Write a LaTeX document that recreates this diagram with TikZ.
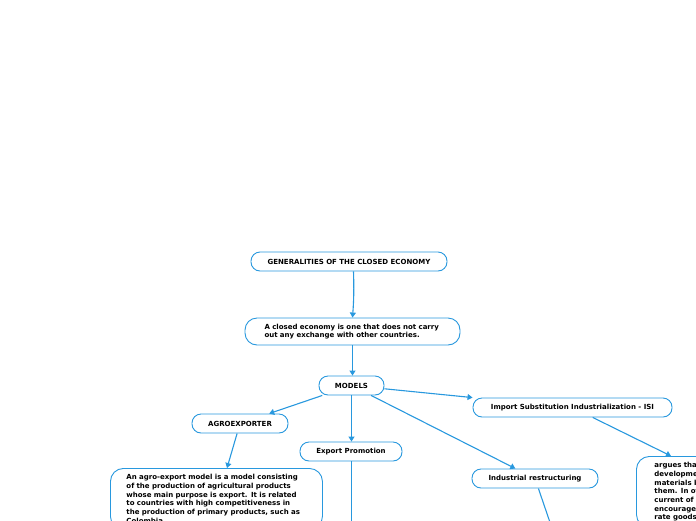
\documentclass[tikz,border=0pt]{standalone}
\usepackage{fontspec}
\setmainfont{DejaVu Sans}
\usepackage{tikz}
\usetikzlibrary{arrows.meta,positioning}

\definecolor{mapblue}{RGB}{40,152,222}

\begin{document}
\begin{tikzpicture}[
  x=1pt, y=-1pt,
  topic/.style={draw=mapblue, fill=white, rounded corners=9pt, line width=0.9pt, align=center, minimum height=19pt, inner sep=0pt, font=\fontsize{7}{8.7}\selectfont\bfseries},
  note/.style={draw=mapblue, fill=white, rounded corners=13pt, line width=0.9pt, align=left, text width=180pt, inner xsep=16pt, inner ysep=6pt, font=\fontsize{7}{8.7}\selectfont\bfseries, anchor=north west},
  arr/.style={-{Triangle[length=5pt,width=6pt]}, draw=mapblue, line width=1.1pt}
]
\useasboundingbox (0,0) rectangle (696,520);
\clip (0,0) rectangle (696,520);

\node[topic, minimum width=196pt] (gen) at (349,261.5) {GENERALITIES OF THE CLOSED ECONOMY};
\node[topic, minimum width=215pt, minimum height=27pt, rounded corners=12pt, align=left, text width=176pt] (closed) at (352.5,331.5)
  {A closed economy is one that does not carry\\out any exchange with other countries.};
\node[topic, minimum width=65pt] (models) at (351.5,385.5) {MODELS};
\node[topic, minimum width=96pt] (agro) at (240,423.5) {AGROEXPORTER};
\node[topic, minimum width=102pt] (expo) at (351,451.5) {Export Promotion};
\node[topic, minimum width=199pt] (isi) at (572.5,407.5) {Import Substitution Industrialization - ISI};
\node[topic, minimum width=126pt] (indus) at (535,478.5) {Industrial restructuring};

\node[note] (agrotxt) at (110,468) {An agro-export model is a model consisting\\of the production of agricultural products\\whose main purpose is export. It is related\\to countries with high competitiveness in\\the production of primary products, such as\\Colombia.};
\node[note, text width=150pt, inner xsep=18pt] (isitxt) at (636,456) {argues that the\\development of\\materials by\\them. In other\\current of thought\\encourages\\rate goods};

% children below the frame
\coordinate (expokid) at (351.5,540);
\coordinate (induskid) at (556,540);

\draw[arr] (gen.south -| 353.5,0) to[bend left=3] (closed.north -| 352.5,0);
\draw[arr] (closed.south -| 352.5,0) -- (models.north -| 352.5,0);
\draw[arr] (models) -- (agro);
\draw[arr] (models.south -| 351.5,0) -- (expo.north -| 351.5,0);
\draw[arr] (models) -- (isi);
\draw[arr] (models) -- (indus);
\draw[arr] (agro) -- (agrotxt.north -| 227,0);
\draw[arr] (isi) -- (isitxt.north -| 671,0);
\draw[mapblue, line width=1.1pt] (expo.south -| 351.5,0) -- (expokid);
\draw[mapblue, line width=1.1pt] (indus) -- (induskid);
\end{tikzpicture}
\end{document}
